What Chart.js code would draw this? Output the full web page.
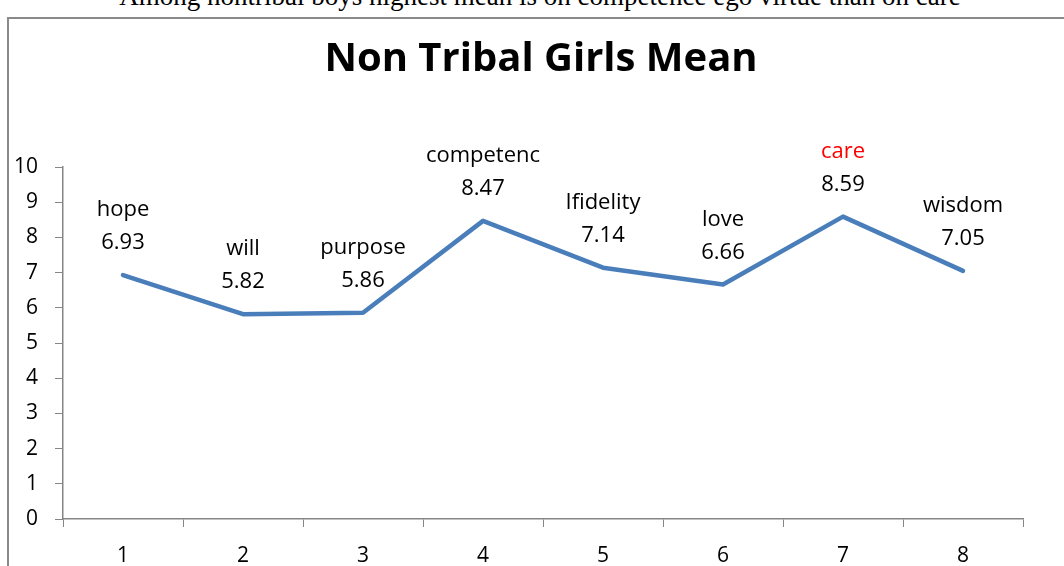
<!DOCTYPE html>
<html>
<head>
<meta charset="utf-8">
<script src="https://cdn.jsdelivr.net/npm/chart.js@4"></script>
<style>
    body { margin: 0; background: #fff; overflow: hidden; }
    #wrap { position: relative; width: 1064px; height: 566px; overflow: hidden; }
    #caption {
        position: absolute; left: 0; top: -17px; width: 1080px; text-align: center;
        font: 27px/27px "Liberation Serif", serif; color: #000; white-space: nowrap;
    }
    #frame {
        position: absolute; left: 7px; top: 17px; width: 2000px; height: 2000px;
        border: 2px solid #8a8a8a;
    }
    #chart { position: absolute; left: 0; top: 0; }
</style>
</head>
<body>
<div id="wrap">
    <div id="caption">Among nontribal boys highest mean is on competence ego virtue than on care</div>
    <div id="frame"></div>
    <canvas id="chart" width="1064" height="566"></canvas>
</div>
<script>
    // ============================================
    // DATA
    // ============================================
    const categories = ['1', '2', '3', '4', '5', '6', '7', '8'];
    const virtueNames = ['hope', 'will', 'purpose', 'competenc', 'Ifidelity', 'love', 'care', 'wisdom'];
    const meanValues = [6.93, 5.82, 5.86, 8.47, 7.14, 6.66, 8.59, 7.05];
    const yTicks = [0, 1, 2, 3, 4, 5, 6, 7, 8, 9, 10];

    const chartTitle = 'Non Tribal Girls Mean';
    const highlightName = 'care';
    const FONT = '"Open Sans", Lato, sans-serif';
    const AXIS_GREY = '#868686';

    // title over the plot + two-line labels above every point
    const annotatePlugin = {
        id: 'annotate',
        afterDraw(chart) {
            const ctx = chart.ctx;
            const area = chart.chartArea;
            ctx.save();
            ctx.textAlign = 'center';
            ctx.textBaseline = 'middle';
            ctx.fillStyle = '#000';
            ctx.font = 'bold 40px ' + FONT;
            ctx.fillText(chartTitle, (area.left + area.right) / 2 - 2, 60);

            ctx.font = '22px ' + FONT;
            const meta = chart.getDatasetMeta(0);
            meta.data.forEach((pt, i) => {
                ctx.fillStyle = virtueNames[i] === highlightName ? '#ff0000' : '#000';
                ctx.fillText(virtueNames[i], pt.x, pt.y - 65);
                ctx.fillStyle = '#000';
                ctx.fillText(meanValues[i].toFixed(2), pt.x, pt.y - 32);
            });
            ctx.restore();
        }
    };

    new Chart(document.getElementById('chart'), {
        type: 'line',
        data: {
            labels: categories,
            datasets: [{
                data: meanValues,
                borderColor: '#4A7EBB',
                borderWidth: 4.5,
                borderCapStyle: 'round',
                borderJoinStyle: 'round',
                pointRadius: 0,
                tension: 0,
                fill: false
            }]
        },
        options: {
            responsive: false,
            animation: false,
            layout: { padding: { top: 167, right: 41, left: 0, bottom: 0 } },
            plugins: {
                legend: { display: false },
                title: { display: false },
                tooltip: { enabled: false }
            },
            scales: {
                x: {
                    offset: true,
                    grid: {
                        offset: true,
                        drawOnChartArea: false,
                        drawTicks: true,
                        tickLength: 8,
                        color: AXIS_GREY
                    },
                    border: { color: AXIS_GREY, width: 1.5 },
                    ticks: { color: '#000', font: { family: FONT, size: 21 }, padding: 16 },
                    afterFit: s => { s.height = 47; }
                },
                y: {
                    min: 0,
                    max: 10,
                    afterBuildTicks: s => { s.ticks = yTicks.map(v => ({ value: v })); },
                    grid: {
                        drawOnChartArea: false,
                        drawTicks: true,
                        tickLength: 8,
                        color: AXIS_GREY
                    },
                    border: { color: AXIS_GREY, width: 1.5 },
                    ticks: { color: '#000', font: { family: FONT, size: 21 }, padding: 17 },
                    afterFit: s => { s.width = 63; }
                }
            }
        },
        plugins: [annotatePlugin]
    });
</script>
</body>
</html>
